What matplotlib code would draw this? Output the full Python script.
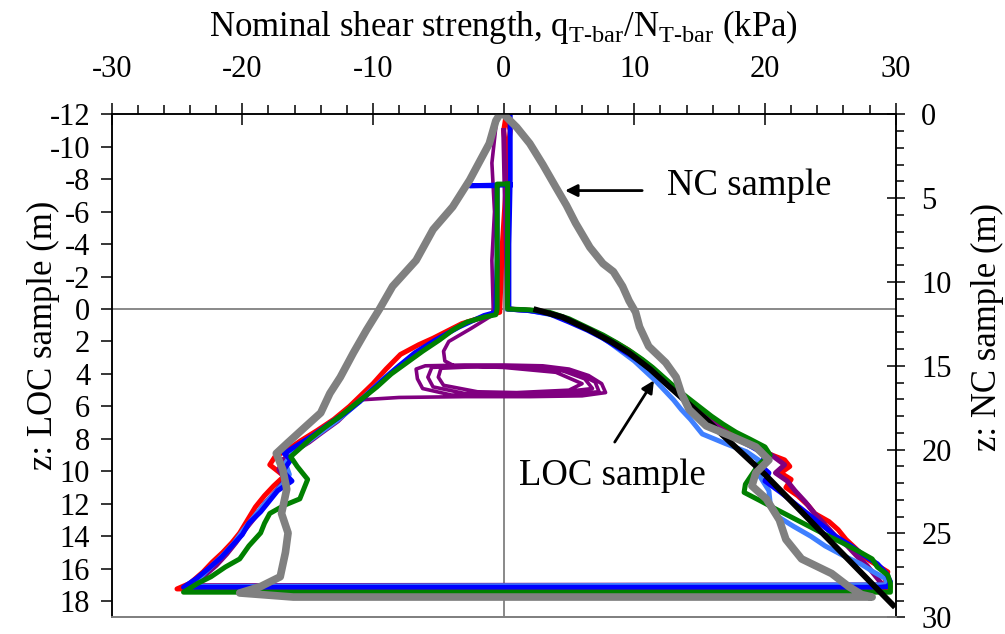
import matplotlib
matplotlib.use("Agg")
import matplotlib.pyplot as plt
from matplotlib.ticker import MultipleLocator

# T-bar profiles: (q/N in kPa, depth z in m on the LOC axis)
red = [(0.2, -12), (0.5, -11), (0.3, -9.5), (0.4, -7.7), (0.3, -4), (0.3, 0),
       (1.5, 0.05), (3.0, 0.15), (4.5, 0.5), (5.8, 1.0), (7.2, 1.5), (8.4, 2.0), (9.5, 2.5),
       (10.3, 3.0), (11.1, 3.5), (11.7, 4.0), (12.6, 4.5), (13.1, 5.0), (13.9, 5.5), (14.5, 6.0),
       (15.3, 6.5), (16.2, 7.0), (17.0, 7.5), (17.9, 8.0), (18.9, 8.4), (20.2, 8.9), (21.5, 9.3),
       (21.9, 9.7), (21.2, 10.1), (22.0, 10.5), (21.6, 11.0), (22.5, 11.5), (23.3, 12.1),
       (23.8, 12.6), (24.9, 13.1), (25.6, 13.6), (26.2, 14.2), (27.0, 14.8), (27.6, 15.3),
       (28.4, 15.7), (29.4, 16.2), (29.2, 16.7), (29.6, 17.1), (29.5, 17.3),
       (-25.0, 17.25), (-24.0, 16.9), (-23.0, 16.2), (-22.3, 15.6), (-21.5, 15.0), (-20.8, 14.4),
       (-20.2, 13.8), (-19.6, 13.0), (-19.0, 12.2), (-18.3, 11.5), (-17.6, 10.9), (-16.8, 10.3),
       (-17.9, 9.6), (-17.5, 9.1), (-16.6, 8.7), (-15.5, 8.1), (-14.3, 7.5), (-13.0, 6.8),
       (-11.8, 6.0), (-10.9, 5.3), (-10.0, 4.6), (-9.0, 3.7), (-7.9, 2.8), (-6.5, 2.2), (-5.4, 1.8),
       (-3.2, 0.9), (-1.2, 0.4), (-0.3, 0.2), (-0.1, -4), (0.3, -9), (0.0, -11), (0.2, -12)]

blue = [(0.5, -12), (0.5, -8), (0.4, -4), (0.4, 0), (2.0, 0.1), (3.5, 0.3), (5.0, 0.8),
        (6.4, 1.3), (7.6, 1.8), (8.8, 2.4), (9.8, 2.9), (10.7, 3.4), (11.5, 3.9), (12.3, 4.5),
        (13.0, 5.0), (13.8, 5.6), (14.6, 6.2), (15.4, 6.8), (16.3, 7.4), (17.6, 7.9), (19.0, 8.5),
        (20.1, 9.0), (19.6, 9.6), (20.3, 10.1), (20.0, 10.6), (21.2, 11.3), (22.3, 12.0),
        (23.4, 12.7), (24.5, 13.4), (25.4, 14.0), (26.6, 14.6), (27.6, 15.2), (28.6, 15.7),
        (29.3, 16.3), (29.6, 16.8), (29.4, 17.1), (28.8, 17.15), (-24.5, 17.15),
        (-23.5, 16.6), (-22.6, 16.0), (-21.6, 15.3), (-20.8, 14.6), (-20.0, 13.9), (-19.5, 13.2),
        (-18.6, 12.5), (-17.9, 11.8), (-17.3, 11.2), (-16.2, 10.6), (-16.9, 10.0), (-16.3, 9.3),
        (-16.8, 8.9), (-15.8, 8.4), (-14.6, 7.8), (-13.4, 7.1), (-12.1, 6.4), (-11.0, 5.7),
        (-10.1, 5.0), (-9.0, 4.2), (-8.0, 3.5), (-6.8, 2.7), (-5.2, 1.9), (-3.4, 1.1),
        (-1.5, 0.4), (-0.6, 0.2), (-0.5, -3), (-0.5, -7.6), (-2.6, -7.6), (0.5, -7.65)]

lightblue = [(0.3, 0), (2.0, 0.1), (4.0, 0.4), (5.5, 0.9), (6.8, 1.4), (8.0, 2.0), (9.0, 2.6),
             (10.0, 3.2), (10.8, 3.8), (11.6, 4.4), (12.3, 5.0), (13.0, 5.6), (13.6, 6.2),
             (14.3, 6.8), (15.2, 7.7), (17.0, 8.3), (18.6, 8.8), (19.5, 9.3), (19.3, 9.8),
             (19.6, 10.3), (20.3, 11.2), (20.4, 12.0), (21.0, 12.8), (22.2, 13.4), (23.5, 14.0),
             (24.6, 14.6), (26.0, 15.2), (27.3, 15.7), (28.3, 16.2), (29.2, 16.6), (29.4, 17.0),
             (-24.0, 17.1), (-23.2, 16.5), (-22.3, 15.8), (-21.4, 15.1), (-20.6, 14.4),
             (-19.9, 13.6), (-19.2, 12.9), (-18.5, 12.2), (-17.7, 11.5), (-16.9, 10.8),
             (-16.4, 10.2), (-16.7, 9.5), (-16.2, 8.9), (-15.2, 8.3), (-14.0, 7.6), (-12.8, 6.9),
             (-11.6, 6.1), (-10.4, 5.2), (-9.2, 4.3), (-8.0, 3.5), (-6.8, 2.8)]

purple = [(0.0, -11), (0.2, -4), (0.3, 0), (2.0, 0.1), (3.5, 0.25), (5.0, 0.7), (6.4, 1.2),
          (7.7, 1.7), (8.8, 2.2), (9.8, 2.7), (10.7, 3.2), (11.5, 3.7), (12.3, 4.3), (13.0, 4.9),
          (13.8, 5.5), (14.6, 6.1), (15.5, 6.7), (16.5, 7.3), (17.6, 7.9), (19.2, 8.5), (20.5, 9.0),
          (21.5, 9.6), (20.8, 10.1), (21.7, 10.6), (22.3, 11.2), (23.1, 11.9), (23.8, 12.6),
          (24.6, 13.3), (25.4, 14.0), (26.3, 14.6), (27.0, 15.2), (27.8, 15.8), (28.4, 16.4),
          (29.0, 17.0), (-24.0, 17.05), (-23.0, 16.5), (-22.0, 15.8), (-21.2, 15.1),
          (-20.5, 14.4), (-19.8, 13.6), (-19.0, 12.8), (-18.3, 12.0), (-17.4, 11.2),
          (-16.7, 10.5), (-17.2, 9.9), (-16.9, 9.3), (-16.1, 8.8), (-14.9, 8.2), (-13.9, 7.6),
          (-12.7, 6.9), (-11.8, 6.2), (-11.0, 5.6)]

# cyclic episode of the purple test, then extraction to the surface
purple_cyclic = [(-11.0, 5.6), (-8.0, 5.45), (-3.0, 5.4), (2.0, 5.4), (6.0, 5.35), (7.8, 5.15),
                 (7.5, 4.6), (6.5, 4.1), (5.0, 3.7), (3.0, 3.5), (0.0, 3.45), (-3.0, 3.45),
                 (-6.0, 3.5), (-6.7, 3.7), (-6.6, 4.3), (-6.2, 4.9), (-4.0, 5.3), (0.0, 5.35),
                 (4.0, 5.3), (7.3, 5.1), (7.0, 4.5), (5.5, 3.9), (3.0, 3.6), (0.0, 3.5),
                 (-3.0, 3.5), (-5.5, 3.6), (-5.8, 4.2), (-5.4, 4.8), (-3.0, 5.2), (0.0, 5.25),
                 (3.5, 5.2), (6.8, 4.9), (6.2, 4.3), (4.5, 3.8), (1.0, 3.55), (-2.0, 3.55),
                 (-4.8, 3.65), (-5.0, 4.2), (-4.6, 4.7), (-2.0, 5.1), (1.0, 5.15), (5.0, 5.0),
                 (6.0, 4.6), (4.0, 3.9), (0.0, 3.6), (-3.8, 3.5), (-4.5, 3.2), (-4.6, 2.6),
                 (-4.2, 2.0), (-2.5, 1.2), (-0.9, 0.4), (-0.8, 0.0), (-0.9, -3), (-0.7, -6),
                 (-0.9, -9), (-0.6, -11.2)]

green = [(0.3, -7.7), (0.3, 0), (2.0, 0.05), (3.5, 0.2), (5.0, 0.6), (6.3, 1.1), (7.6, 1.6),
         (8.7, 2.1), (9.7, 2.6), (10.6, 3.1), (11.4, 3.6), (12.1, 4.1), (12.8, 4.6), (13.5, 5.1),
         (14.3, 5.6), (15.1, 6.1), (15.9, 6.6), (16.8, 7.1), (17.8, 7.6), (18.8, 8.0), (20.0, 8.5),
         (20.4, 9.0), (19.5, 9.6), (19.0, 10.2), (18.5, 10.8), (18.4, 11.3), (19.6, 11.8),
         (21.0, 12.4), (22.2, 12.9), (23.4, 13.4), (24.6, 13.9), (25.9, 14.4), (27.1, 14.9),
         (28.2, 15.4), (28.6, 15.9), (29.4, 16.4), (29.6, 16.9), (29.6, 17.45), (-24.5, 17.45),
         (-23.4, 16.9), (-22.4, 16.5), (-21.3, 15.9), (-20.2, 15.4), (-19.5, 14.6), (-18.6, 13.8),
         (-18.3, 13.2), (-17.9, 12.6), (-16.8, 12.1), (-15.6, 11.7), (-15.3, 11.1), (-15.0, 10.5),
         (-15.8, 9.7), (-16.3, 9.1), (-15.6, 8.6), (-14.8, 8.0), (-13.7, 7.3), (-12.5, 6.6),
         (-11.1, 5.7), (-9.7, 4.8), (-8.6, 4.0), (-7.4, 3.3), (-6.2, 2.6), (-4.9, 1.9),
         (-3.9, 1.3), (-2.8, 0.8), (-1.5, 0.5), (-0.6, 0.35), (-0.5, 0), (-0.5, -7.7), (0.3, -7.7)]

fit = [(2.5, 0.05), (4.5, 0.5), (6.6, 1.3), (8.2, 2.0), (9.6, 2.7), (11.2, 3.7), (12.7, 4.8),
       (14.1, 5.8), (15.5, 6.8), (16.8, 7.8), (18.0, 8.7), (20.0, 10.2), (29.8, 18.25)]

nc = [(0.0, -12), (1.0, -11.2), (2.0, -10.2), (3.0, -8.9), (4.0, -7.5), (4.8, -6.4), (5.5, -5.3),
      (6.6, -3.8), (7.6, -2.8), (8.4, -2.3), (9.1, -1.4), (9.6, -0.5), (10.1, 0.2), (10.4, 1.1),
      (11.1, 2.3), (12.4, 3.3), (13.2, 4.2), (13.6, 5.2), (14.2, 6.2), (15.5, 7.2), (17.3, 7.8),
      (19.3, 8.5), (20.3, 9.3), (19.3, 10.1), (19.0, 10.9), (20.1, 11.7), (21.1, 13.0),
      (21.6, 14.2), (22.8, 15.4), (25.1, 16.3), (26.4, 17.1), (27.4, 17.6), (28.2, 17.75),
      (-16.1, 17.75), (-20.2, 17.5), (-18.6, 17.1), (-17.1, 16.5), (-16.7, 15.0), (-16.5, 13.8),
      (-17.0, 12.6), (-16.6, 11.1), (-16.9, 9.9), (-17.4, 8.9), (-16.6, 8.3), (-15.1, 7.2),
      (-14.0, 6.4), (-13.3, 5.2), (-12.5, 4.2), (-11.5, 2.7), (-10.5, 1.3), (-9.5, 0.0),
      (-8.5, -1.4), (-6.7, -3.0), (-5.4, -4.9), (-3.9, -6.3), (-2.6, -7.95), (-1.1, -10.2),
      (-0.6, -11.6), (-0.3, -12)]

plt.rcParams['font.family'] = 'Liberation Serif'
plt.rcParams['mathtext.fontset'] = 'custom'
plt.rcParams['mathtext.rm'] = 'Liberation Serif'
plt.rcParams['axes.unicode_minus'] = False

fig = plt.figure(figsize=(10.05, 6.34), dpi=100)
ax = fig.add_axes([0.1111, 0.0263, 0.7801, 0.7934])


def draw(pts, color, lw, z):
    q = [p[0] for p in pts]
    d = [p[1] for p in pts]
    ax.plot(q, d, color=color, lw=lw, zorder=z)


ax.axhline(0, color='#808080', lw=1.3, zorder=1)
ax.axvline(0, color='#808080', lw=1.3, zorder=1)

draw(red, '#ff0000', 3.6, 2)
draw(purple, '#800080', 3.6, 2.1)
draw(purple_cyclic, '#800080', 2.6, 2.1)
draw(lightblue, '#3f7fff', 3.6, 2.2)
draw(blue, '#0000ff', 3.6, 2.3)
draw(green, '#008000', 3.6, 2.4)
draw(fit, 'black', 4.2, 2.5)
draw(nc, '#808080', 5.5, 2.6)

ax.set_xlim(-30, 30)
ax.set_ylim(19, -12)
ax.xaxis.tick_top()
ax.xaxis.set_major_locator(MultipleLocator(10))
ax.xaxis.set_minor_locator(MultipleLocator(2))
ax.set_yticks(range(-12, 19, 2))
ax.tick_params(axis='x', which='major', direction='inout', length=16, width=1.1, pad=14, labelsize=22)
ax.tick_params(axis='x', which='minor', direction='out', length=6.5, width=1.1)
ax.tick_params(axis='y', which='major', direction='out', length=8, width=1.1, pad=7.5, labelsize=22)
for s in ['top', 'left', 'right']:
    ax.spines[s].set_linewidth(1.1)
ax.spines['bottom'].set_color('#808080')
ax.spines['bottom'].set_linewidth(1.3)

ax2 = ax.twinx()
ax2.set_ylim(30, 0)
ax2.yaxis.set_major_locator(MultipleLocator(5))
ax2.yaxis.set_minor_locator(MultipleLocator(1))
ax2.tick_params(axis='y', which='major', direction='inout', length=13, width=1.1, pad=12, labelsize=22)
ax2.tick_params(axis='y', which='minor', direction='out', length=6, width=1.1)
ax2.spines['bottom'].set_color('#808080')
ax2.spines['bottom'].set_linewidth(1.3)
for s in ['top', 'left', 'right']:
    ax2.spines[s].set_linewidth(1.1)

fig.text(0.5012, 1 - 27 / 634,
         r'Nominal shear strength, q$_{\mathrm{T\text{-}bar}}$/N$_{\mathrm{T\text{-}bar}}$ (kPa)',
         ha='center', va='center', fontsize=25)
fig.text(43 / 1005, 0.4716, 'z: LOC sample (m)', rotation=90, ha='center', va='center', fontsize=25)
fig.text(987 / 1005, 0.484, 'z: NC sample (m)', rotation=90, ha='center', va='center', fontsize=25)

arrow = dict(arrowstyle='-|>', color='black', lw=2, mutation_scale=18, shrinkA=0, shrinkB=0)
ax.annotate('', xy=(4.7, -7.3), xytext=(10.6, -7.3), arrowprops=arrow, zorder=5)
ax.text(12.5, -7.6, 'NC sample', fontsize=26.5, ha='left', va='center', zorder=5)
ax.annotate('', xy=(11.5, 4.4), xytext=(8.5, 8.2), arrowprops=arrow, zorder=5)
ax.text(1.2, 10.3, 'LOC sample', fontsize=26.5, ha='left', va='center', zorder=5)

fig.savefig('out.png', dpi=100)
